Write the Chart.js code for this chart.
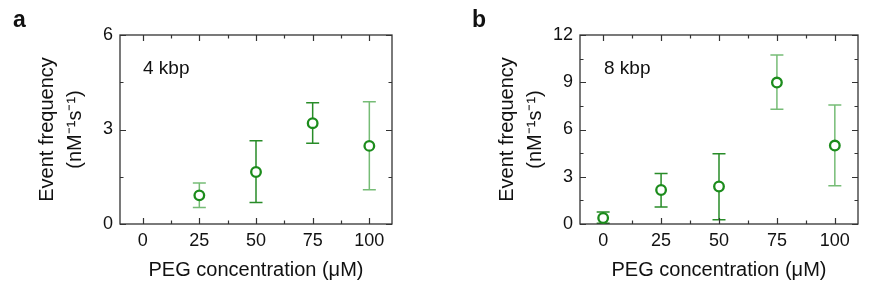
<!DOCTYPE html>
<html>
<head>
<meta charset="utf-8">
<script src="https://cdn.jsdelivr.net/npm/chart.js@4.4.1/dist/chart.umd.min.js"></script>
<style>
html,body{margin:0;padding:0;background:#fff;width:896px;height:292px;overflow:hidden;}
canvas{position:absolute;top:0;}
#ca{left:0;}
#cb{left:448px;}
</style>
</head>
<body>
<canvas id="ca" width="448" height="292"></canvas>
<canvas id="cb" width="448" height="292"></canvas>
<script>
// ---- data ----
const xTicks = [0, 25, 50, 75, 100];
const xMinorTicks = [12.5, 37.5, 62.5, 87.5];

const concA = [25, 50, 75, 100];
const freqA = [0.91, 1.65, 3.20, 2.48];
const lowA  = [0.52, 0.68, 2.56, 1.09];
const highA = [1.30, 2.64, 3.85, 3.88];
const yTicksA = [0, 3, 6];
const yMinorA = [1.5, 4.5];

const concB = [0, 25, 50, 75, 100];
const freqB = [0.38, 2.16, 2.38, 8.98, 4.98];
const lowB  = [0.05, 1.08, 0.27, 7.29, 2.43];
const highB = [0.76, 3.21, 4.46, 10.73, 7.56];
const yTicksB = [0, 3, 6, 9, 12];
const yMinorB = [1.5, 4.5, 7.5, 10.5];

const DARK = 'rgb(40,140,40)';
const LIGHT = 'rgba(60,160,60,0.7)';
const errColorsA = [LIGHT, DARK, DARK, LIGHT];
const errColorsB = [DARK, DARK, DARK, LIGHT, LIGHT];

const FONT = "'Liberation Sans', Arial, Helvetica, sans-serif";
const TXT = '#111';

function makeChart(id, opts) {
  const plugin = {
    id: 'deco',
    beforeDatasetsDraw(chart) {
      const {ctx, chartArea: a, scales: {x, y}} = chart;
      ctx.save();
      // error bars
      ctx.lineWidth = 1.5;
      opts.xs.forEach((xv, i) => {
        const px = x.getPixelForValue(xv);
        const pl = y.getPixelForValue(opts.lo[i]);
        const ph = y.getPixelForValue(opts.hi[i]);
        ctx.strokeStyle = opts.errColors[i];
        ctx.beginPath();
        ctx.moveTo(px, pl); ctx.lineTo(px, ph);
        ctx.moveTo(px - 6.5, pl); ctx.lineTo(px + 6.5, pl);
        ctx.moveTo(px - 6.5, ph); ctx.lineTo(px + 6.5, ph);
        ctx.stroke();
      });
      // frame
      ctx.strokeStyle = '#333';
      ctx.lineWidth = 1.3;
      ctx.strokeRect(a.left, a.top, a.right - a.left, a.bottom - a.top);
      // inward ticks
      const xt = (vals, len) => vals.forEach(v => {
        const p = Math.round(x.getPixelForValue(v)) + 0.5;
        ctx.beginPath();
        ctx.moveTo(p, a.bottom); ctx.lineTo(p, a.bottom - len);
        ctx.moveTo(p, a.top); ctx.lineTo(p, a.top + len);
        ctx.stroke();
      });
      const yt = (vals, len) => vals.forEach(v => {
        const p = Math.round(y.getPixelForValue(v)) + 0.5;
        ctx.beginPath();
        ctx.moveTo(a.left, p); ctx.lineTo(a.left + len, p);
        ctx.moveTo(a.right, p); ctx.lineTo(a.right - len, p);
        ctx.stroke();
      });
      ctx.lineWidth = 1.2;
      xt(xTicks, 6); xt(xMinorTicks, 3.5);
      yt(opts.yTicks, 6); yt(opts.yMinor, 3.5);
      // labels
      ctx.fillStyle = TXT;
      ctx.font = '19px ' + FONT;
      ctx.textBaseline = 'middle';
      ctx.textAlign = 'left';
      ctx.fillText(opts.label, a.left + opts.labelDx, a.top + 34);
      ctx.font = 'bold 23px ' + FONT;
      ctx.textBaseline = 'alphabetic';
      ctx.fillText(opts.letter, opts.letterX, 27);
      ctx.restore();
    }
  };
  return new Chart(document.getElementById(id), {
    type: 'scatter',
    data: {
      datasets: [{
        data: opts.xs.map((v, i) => ({x: v, y: opts.ys[i]})),
        pointStyle: 'circle',
        pointRadius: 4.8,
        pointHoverRadius: 4.8,
        borderWidth: 2.3,
        borderColor: 'rgb(28,140,28)',
        backgroundColor: '#fff',
        clip: false
      }]
    },
    options: {
      responsive: false,
      devicePixelRatio: 1,
      animation: false,
      events: [],
      layout: {padding: {left: 0, top: 35, right: opts.padRight, bottom: 0}},
      plugins: {legend: {display: false}, tooltip: {enabled: false}},
      scales: {
        x: {
          type: 'linear', min: -10, max: 110,
          grid: {display: false, drawTicks: false, tickLength: 0},
          border: {display: false},
          afterBuildTicks: s => { s.ticks = xTicks.map(v => ({value: v})); },
          afterFit: s => { s.height = 68; },
          ticks: {padding: 6, color: TXT, font: {family: FONT, size: 18}, maxRotation: 0, autoSkip: false},
          title: {display: true, text: 'PEG concentration (μM)', color: TXT,
                  font: {family: FONT, size: 20}, padding: {top: 0, bottom: 10}}
        },
        y: {
          type: 'linear', min: 0, max: opts.yMax,
          grid: {display: false, drawTicks: false, tickLength: 0},
          border: {display: false},
          afterBuildTicks: s => { s.ticks = opts.yTicks.map(v => ({value: v})); },
          afterFit: s => { s.width = opts.axisW; },
          ticks: {padding: 7, color: TXT, font: {family: FONT, size: 18}, autoSkip: false},
          title: {display: true, text: ['Event frequency', '(nM⁻¹s⁻¹)'], color: TXT,
                  font: {family: FONT, size: 20, lineHeight: 1.4}, padding: {top: opts.titlePad, bottom: 0}}
        }
      }
    },
    plugins: [plugin]
  });
}

makeChart('ca', {xs: concA, ys: freqA, lo: lowA, hi: highA, errColors: errColorsA,
  yMax: 6, yTicks: yTicksA, yMinor: yMinorA, axisW: 120, padRight: 56, titlePad: 33,
  label: '4 kbp', labelDx: 23, letter: 'a', letterX: 13});
makeChart('cb', {xs: concB, ys: freqB, lo: lowB, hi: highB, errColors: errColorsB,
  yMax: 12, yTicks: yTicksB, yMinor: yMinorB, axisW: 132, padRight: 38, titlePad: 45,
  label: '8 kbp', labelDx: 24, letter: 'b', letterX: 24});
</script>
</body>
</html>
